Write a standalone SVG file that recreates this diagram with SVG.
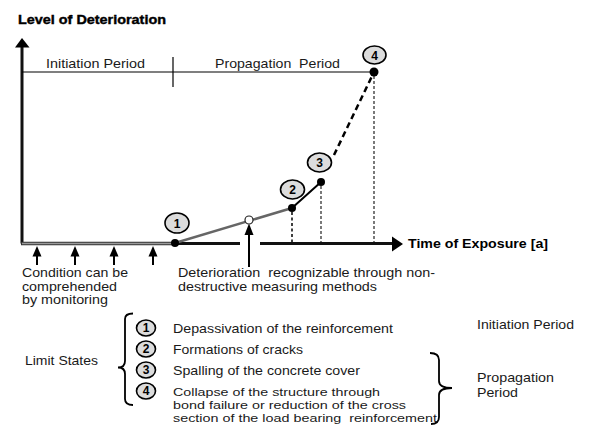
<svg xmlns="http://www.w3.org/2000/svg" width="589" height="429" viewBox="0 0 589 429">
<style>
.t{font-family:"Liberation Sans",Arial,sans-serif;font-size:13px;fill:#1a1a1a}
.s{font-size:11.2px}
.b{font-weight:bold;fill:#000}
.n{font-family:"Liberation Sans",Arial,sans-serif;font-size:12px;font-weight:bold;fill:#000;text-anchor:middle}
.lbl{fill:#dcdcdc;stroke:#000;stroke-width:1.6}
.pt{fill:#000}
.ax{stroke:#111;stroke-width:3;fill:none}
.thin{stroke:#000;stroke-width:1.2;fill:none}
.drop{stroke:#333;stroke-width:1.3;stroke-dasharray:3 2;fill:none}
.brace{stroke:#000;stroke-width:1.8;fill:none}
</style>
<rect width="589" height="429" fill="#fff"/>

<text class="t b" x="18" y="24" textLength="148" lengthAdjust="spacingAndGlyphs" stroke="#000" stroke-width="0.4">Level of Deterioration</text>

<g id="axes">
<line class="ax" x1="22" y1="243.5" x2="22" y2="46"/>
<polygon points="22,38 15,47.5 29.5,47.5" fill="#000"/>
<line x1="21" y1="243.5" x2="175" y2="243.5" stroke="#333" stroke-width="3.6"/>
<line x1="22" y1="243.5" x2="175" y2="243.5" stroke="#9a9a9a" stroke-width="1.3"/>
<line class="ax" x1="175" y1="243.5" x2="240" y2="243.5"/>
<line class="ax" x1="260" y1="243.5" x2="395" y2="243.5"/>
<polygon points="403,244 392,236.5 392,251.5" fill="#000"/>
<text class="t b" x="408" y="247.5" textLength="140" lengthAdjust="spacingAndGlyphs">Time of Exposure [a]</text>
</g>

<g id="periods">
<line class="thin" x1="22" y1="72" x2="374" y2="72"/>
<line class="thin" x1="173" y1="57" x2="173" y2="87"/>
<text class="t" x="46" y="68" textLength="99" lengthAdjust="spacingAndGlyphs">Initiation Period</text>
<text class="t" x="215" y="68" textLength="125" lengthAdjust="spacingAndGlyphs" xml:space="preserve">Propagation  Period</text>
</g>

<g id="connectors">
<line x1="175" y1="243" x2="292" y2="208" stroke="#666" stroke-width="2.5"/>
<line x1="292" y1="208" x2="321" y2="182" stroke="#000" stroke-width="2"/>
<line x1="334" y1="155" x2="374" y2="72" stroke="#000" stroke-width="2.5" stroke-dasharray="6 4"/>
<line x1="292" y1="212" x2="292" y2="242" stroke="#000" stroke-width="1.5" stroke-dasharray="3 2.5"/>
<line class="drop" x1="321" y1="186" x2="321" y2="242"/>
<line class="drop" x1="374" y1="76" x2="374" y2="242"/>
<line x1="37" y1="265" x2="37" y2="255" stroke="#000" stroke-width="2"/>
<polygon points="37,246 32.5,256.5 41.5,256.5" fill="#000"/>
<line x1="75" y1="265" x2="75" y2="255" stroke="#000" stroke-width="2"/>
<polygon points="75,246 70.5,256.5 79.5,256.5" fill="#000"/>
<line x1="114" y1="265" x2="114" y2="255" stroke="#000" stroke-width="2"/>
<polygon points="114,246 109.5,256.5 118.5,256.5" fill="#000"/>
<line x1="153" y1="265" x2="153" y2="255" stroke="#000" stroke-width="2"/>
<polygon points="153,246 148.5,256.5 157.5,256.5" fill="#000"/>
<line x1="249" y1="267" x2="249" y2="233" stroke="#000" stroke-width="2"/>
<polygon points="249,223.5 244.5,235 253.5,235" fill="#000"/>
</g>

<g id="p1"><circle class="pt" cx="175" cy="243" r="4"/><ellipse class="lbl" cx="177" cy="223" rx="12" ry="10"/><text class="n" x="177" y="227.5">1</text></g>
<g id="pOpen"><circle cx="249" cy="220" r="4" fill="#fff" stroke="#222" stroke-width="1.2"/></g>
<g id="p2"><circle class="pt" cx="292" cy="208" r="4"/><ellipse class="lbl" cx="292.5" cy="189.5" rx="12" ry="9.5"/><text class="n" x="292.5" y="194">2</text></g>
<g id="p3"><circle class="pt" cx="321" cy="182" r="4"/><ellipse class="lbl" cx="319.5" cy="162.5" rx="12" ry="9.5"/><text class="n" x="319.5" y="167">3</text></g>
<g id="p4"><circle class="pt" cx="374" cy="72" r="4.5"/><ellipse class="lbl" cx="374.5" cy="55" rx="11.5" ry="9"/><text class="n" x="374.5" y="59.5">4</text></g>

<g id="notes">
<text class="t" x="22" y="277" textLength="106" lengthAdjust="spacingAndGlyphs">Condition can be</text>
<text class="t" x="22" y="290.5" textLength="95" lengthAdjust="spacingAndGlyphs">comprehended</text>
<text class="t" x="22" y="304" textLength="86" lengthAdjust="spacingAndGlyphs">by monitoring</text>
<text class="t" x="178" y="277" textLength="257" lengthAdjust="spacingAndGlyphs" xml:space="preserve">Deterioration  recognizable through non-</text>
<text class="t" x="178" y="290.5" textLength="199" lengthAdjust="spacingAndGlyphs">destructive measuring methods</text>
</g>

<g id="legend">
<text class="t" x="25" y="365" textLength="73" lengthAdjust="spacingAndGlyphs">Limit States</text>
<path class="brace" d="M133,313.5 Q125,313.5 125,319 L125,361 Q125,367.5 118,367.5 Q125,367.5 125,374 L125,399 Q125,405 133,405"/>
<g id="l1"><ellipse class="lbl" cx="146" cy="328" rx="9.5" ry="8"/><text class="n" x="146" y="332" font-size="11">1</text><text class="t" x="173" y="333" textLength="220" lengthAdjust="spacingAndGlyphs">Depassivation of the reinforcement</text></g>
<g id="l2"><ellipse class="lbl" cx="146" cy="349" rx="9.5" ry="8"/><text class="n" x="146" y="353" font-size="11">2</text><text class="t" x="173" y="354" textLength="130" lengthAdjust="spacingAndGlyphs">Formations of cracks</text></g>
<g id="l3"><ellipse class="lbl" cx="146" cy="370" rx="9.5" ry="8"/><text class="n" x="146" y="374" font-size="11">3</text><text class="t" x="173" y="375" textLength="187" lengthAdjust="spacingAndGlyphs">Spalling of the concrete cover</text></g>
<g id="l4"><ellipse class="lbl" cx="146" cy="391" rx="9.5" ry="8"/><text class="n" x="146" y="395" font-size="11">4</text>
<text class="t s" x="173" y="396" textLength="207" lengthAdjust="spacingAndGlyphs">Collapse of the structure through</text>
<text class="t s" x="173" y="409" textLength="233" lengthAdjust="spacingAndGlyphs">bond failure or reduction of the cross</text>
<text class="t s" x="173" y="422" textLength="264" lengthAdjust="spacingAndGlyphs" xml:space="preserve">section of the load bearing  reinforcement</text></g>
<path class="brace" d="M430,353 Q439,353 439,360 L439,381 Q439,388 452,388 Q439,388 439,395 L439,417 Q439,424 431,424"/>
<text class="t" x="477" y="329" textLength="97" lengthAdjust="spacingAndGlyphs">Initiation Period</text>
<text class="t" x="477" y="382" textLength="77" lengthAdjust="spacingAndGlyphs">Propagation</text>
<text class="t" x="477" y="397" textLength="41" lengthAdjust="spacingAndGlyphs">Period</text>
</g>
</svg>
